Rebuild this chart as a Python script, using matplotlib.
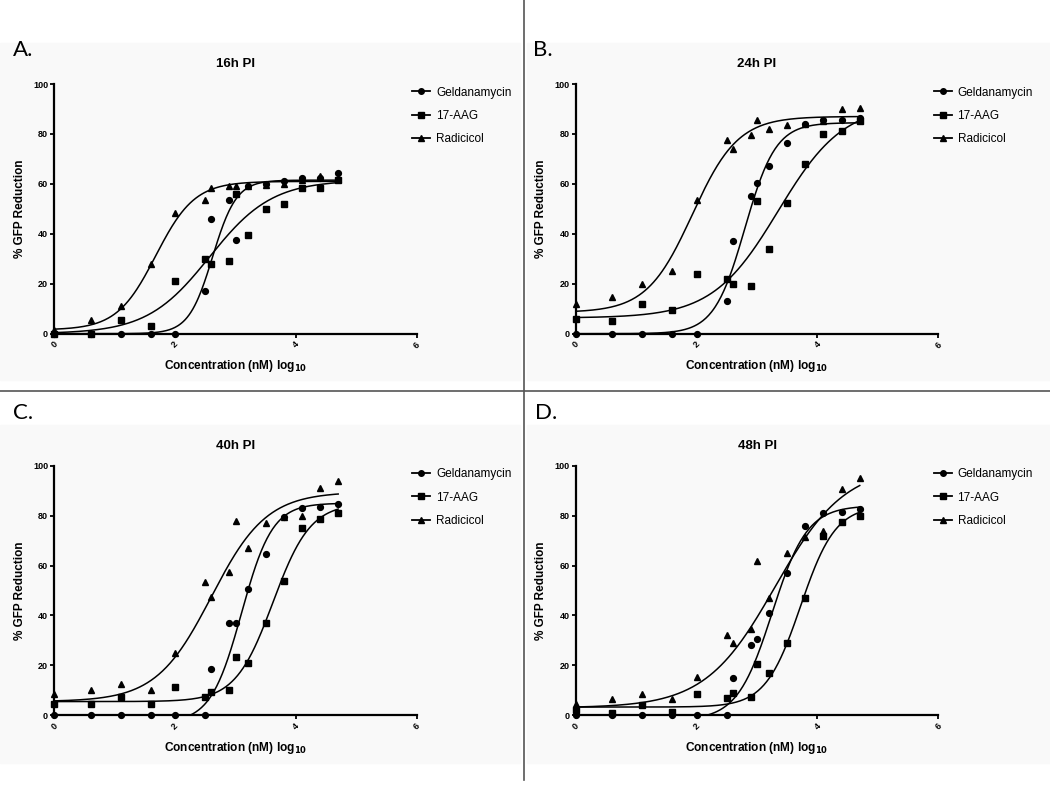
import numpy as np
import matplotlib
matplotlib.use("Agg")
from matplotlib import pyplot as plt
from matplotlib.lines import Line2D

plt.rcParams['font.family'] = ['Liberation Sans', 'DejaVu Sans']

# log10 concentration (nM), same doses in every panel
conc = [0, 0.6, 1.1, 1.6, 2.0, 2.5, 2.6, 2.9, 3.0, 3.2, 3.5, 3.8, 4.1, 4.4, 4.7]

drugs = ["Geldanamycin", "17-AAG", "Radicicol"]
markers = ["o", "s", "^"]
titles = ["16h PI", "24h PI", "40h PI", "48h PI"]
panel_labels = ["A.", "B.", "C.", "D."]

# % GFP reduction
geld_16 = [0, 0, 0, 0, 0, 17, 46, 53.5, 37.5, 59, 60, 61, 62.5, 62.5, 64.5]
aag_16 = [0, 0, 5.5, 3, 21, 30, 28, 29, 56, 39.5, 50, 52, 58.5, 58.5, 61.5]
rad_16 = [1.5, 5.5, 11, 28, 48.5, 53.5, 58.5, 59, 59, 59, 59.5, 60, 61.5, 63, 62]

geld_24 = [0, 0, 0, 0, 0, 13, 37, 55, 60.5, 67, 76.5, 84, 85.5, 85.5, 86.5]
aag_24 = [6, 5, 12, 9.5, 24, 22, 20, 19, 53, 34, 52.5, 68, 80, 81, 85]
rad_24 = [12, 14.5, 20, 25, 53.5, 77.5, 74, 79.5, 85.5, 82, 83.5, 84, 85, 90, 90.5]

geld_40 = [0, 0, 0, 0, 0, 0, 18.5, 37, 37, 50.5, 64.5, 79.5, 83, 83.5, 84.5]
aag_40 = [4.5, 4.5, 7.5, 4.5, 11.5, 7.5, 9.5, 10, 23.5, 21, 37, 54, 75, 78.5, 81]
rad_40 = [8.5, 10, 12.5, 10, 25, 53.5, 47.5, 57.5, 78, 67, 77, 79.5, 80, 91, 94]

geld_48 = [0, 0, 0, 0, 0, 0, 15, 28, 30.5, 41, 57, 76, 81, 81.5, 82.5]
aag_48 = [2, 1, 4, 1.5, 8.5, 7, 9, 7.5, 20.5, 17, 29, 47, 72, 77.5, 80]
rad_48 = [4.5, 6.5, 8.5, 6.5, 15.5, 32, 29, 34.5, 62, 47, 65, 71.5, 74, 90.5, 95]

# fitted dose-response curves: bottom, top, logEC50, hill slope
fit_16 = [(0, 61.5, 2.62, 2.2), (0, 61.5, 2.57, 0.84), (1.5, 61, 1.68, 1.35)]
fit_24 = [(0, 84.5, 2.8, 1.7), (6.3, 92, 3.35, 0.8), (8.5, 87, 1.93, 1.15)]
fit_40 = [(-3, 85, 3.1, 1.7), (5.5, 85, 3.62, 1.4), (5.5, 89.5, 2.6, 0.95)]
fit_48 = [(-2, 84, 3.25, 1.5), (3.3, 84, 3.72, 1.5), (3, 100, 3.3, 0.75)]

data = [[geld_16, aag_16, rad_16], [geld_24, aag_24, rad_24],
        [geld_40, aag_40, rad_40], [geld_48, aag_48, rad_48]]
fits = [fit_16, fit_24, fit_40, fit_48]


def logistic(x, bottom, top, mid, hill):
    return bottom + (top - bottom) / (1 + 10 ** ((mid - x) * hill))


W, H = 1050, 789
fig = plt.figure(figsize=(W / 100, H / 100), dpi=100)

# pixel layout of each panel: x of 0, x of 6, y of 0, y of 100
boxes = [(54.3, 416.7, 333.7, 84), (575.7, 938.3, 333.7, 84),
         (54.3, 416.7, 715.3, 465.7), (575.7, 938.3, 715.3, 465.7)]
bg_boxes = [(0, 43, 520, 380), (527, 43, 1050, 380),
            (0, 425, 520, 763), (527, 425, 1050, 763)]
label_pos = [(13, 50), (533, 50), (13, 413), (535, 413)]

for (x0, y0, x1, y1) in bg_boxes:
    fig.patches.append(plt.Rectangle((x0 / W, 1 - y1 / H), (x1 - x0) / W, (y1 - y0) / H,
                                     transform=fig.transFigure, color='#f9f9f9', zorder=-5))

# separators
fig.add_artist(Line2D([523.5 / W, 523.5 / W], [0.012, 1], color='#555555', lw=1.2))
fig.add_artist(Line2D([0, 1], [1 - 391 / H, 1 - 391 / H], color='#555555', lw=1.2))

xs = np.linspace(0, 4.7, 300)

for i in range(4):
    px0, px6, py0, py100 = boxes[i]
    ax = fig.add_axes([px0 / W, 1 - py0 / H, (px6 - px0) / W, (py0 - py100) / H])
    ax.set_facecolor('none')
    handles = []
    for j in range(3):
        ax.plot(conc, data[i][j], linestyle='none', marker=markers[j], color='black',
                markersize=4.2 if j < 2 else 4.6, clip_on=False, zorder=3)
        ax.plot(xs, logistic(xs, *fits[i][j]), color='black', lw=1.1, zorder=2)
        handles.append(Line2D([], [], color='black', lw=1.3, marker=markers[j], markersize=4))
    ax.set_xlim(0, 6)
    ax.set_ylim(0, 100)
    ax.set_xticks([0, 2, 4, 6])
    ax.set_yticks([0, 20, 40, 60, 80, 100])
    for s in ['top', 'right']:
        ax.spines[s].set_visible(False)
    for s in ['left', 'bottom']:
        ax.spines[s].set_linewidth(1.6)
    ax.tick_params(length=3, width=1.3, pad=1.5)
    for lab in ax.get_yticklabels():
        lab.set_fontsize(6.5)
        lab.set_fontweight('bold')
    for lab in ax.get_xticklabels():
        lab.set_fontsize(6.5)
        lab.set_fontweight('bold')
        lab.set_rotation(45)
        lab.set_va('top')
        lab.set_ha('center')
    ax.set_title(titles[i], fontsize=9.5, fontweight='bold', pad=12)
    ax.set_xlabel(r'Concentration (nM) log$_{\mathbf{10}}$', fontsize=8.6, fontweight='bold', labelpad=6)
    ax.set_ylabel('% GFP Reduction', fontsize=8.5, fontweight='bold', labelpad=5)
    ax.legend(handles, drugs, loc='upper left', frameon=False, fontsize=8.5,
              bbox_to_anchor=((px6 - 15) / W, 1 - (py100 - 8) / H), bbox_transform=fig.transFigure,
              handlelength=1.5, handletextpad=0.5, labelspacing=0.95)
    fig.text(label_pos[i][0] / W, 1 - label_pos[i][1] / H, panel_labels[i],
             fontsize=16, family=['Lato', 'DejaVu Sans'], va='center', ha='left')

fig.savefig('out.png', dpi=100)
